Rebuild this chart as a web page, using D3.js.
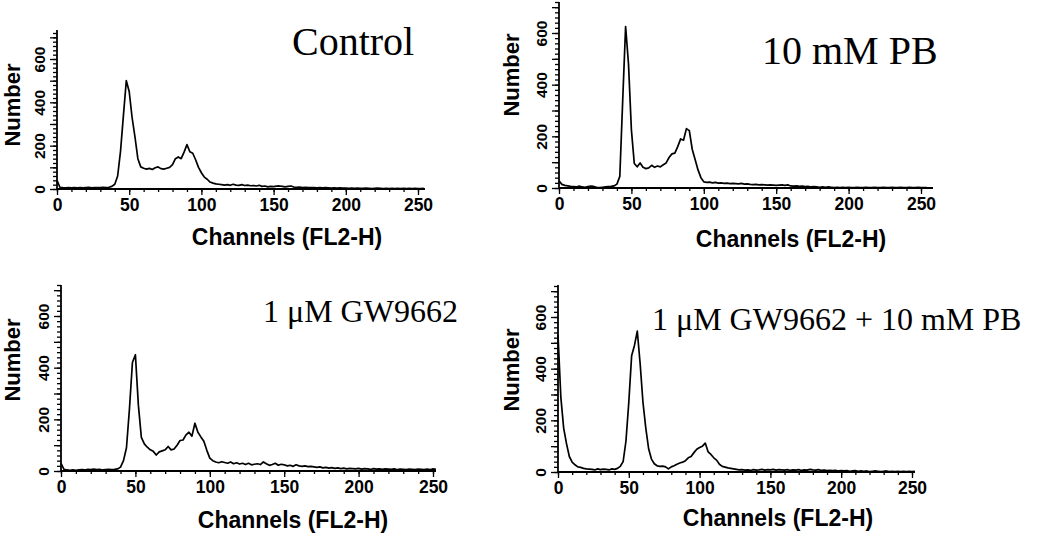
<!DOCTYPE html>
<html>
<head>
<meta charset="utf-8">
<script src="https://cdn.jsdelivr.net/npm/d3@7"></script>
<style>
  html, body { margin: 0; padding: 0; background: #fff; }
  svg { display: block; }
</style>
</head>
<body>
<svg id="chart" width="1050" height="537"></svg>
<script>
// ---------------- data ----------------
const channels = d3.range(0, 256, 2); // FL2-H channel of each count below

const panelTitles = ["Control", "10 mM PB", "1 \u03BCM GW9662", "1 \u03BCM GW9662 + 10 mM PB"];
const xAxisTitle = "Channels (FL2-H)";
const yAxisTitle = "Number";
const xTickLabels = [0, 50, 100, 150, 200, 250];
const yTickLabels = [0, 200, 400, 600];

const controlCounts = [
  40, 8, 6, 5, 6, 5, 6, 5, 6, 5, 7, 8, 5, 6, 7, 6,
  8, 7, 8, 12, 22, 60, 175, 340, 500, 450, 330, 240, 140, 102, 96, 92,
  95, 90, 98, 102, 94, 92, 96, 100, 112, 140, 148, 140, 170, 205, 172, 165,
  135, 100, 75, 55, 45, 32, 27, 24, 22, 20, 18, 20, 17, 22, 18, 17,
  20, 16, 18, 15, 16, 14, 17, 12, 14, 10, 12, 11, 13, 14, 12, 10,
  12, 14, 9, 8, 9, 7, 8, 6, 7, 6, 5, 6, 5, 6, 5, 4,
  5, 4, 5, 4, 4, 3, 4, 3, 4, 3, 3, 4, 3, 2, 3, 4,
  3, 2, 3, 2, 3, 2, 3, 2, 3, 2, 3, 2, 3, 2, 2, 3
];
const pbCounts = [
  28, 14, 10, 8, 6, 5, 4, 7, 4, 3, 5, 7, 6, 3, 2, 3,
  4, 5, 6, 8, 15, 45, 340, 625, 480, 225, 95, 82, 97, 80, 75, 78,
  88, 80, 85, 82, 90, 97, 118, 132, 135, 160, 190, 185, 230, 222, 150, 110,
  70, 40, 24, 22, 23, 20, 22, 19, 20, 18, 19, 17, 18, 17, 16, 18,
  15, 16, 14, 13, 14, 12, 13, 12, 11, 12, 11, 10, 11, 12, 10, 12,
  8, 7, 8, 6, 7, 5, 6, 4, 5, 4, 3, 4, 3, 4, 3, 2,
  3, 2, 3, 2, 3, 2, 2, 3, 2, 2, 3, 2, 2, 3, 2, 2,
  3, 2, 2, 3, 2, 2, 3, 2, 2, 3, 2, 2, 3, 2, 2, 2
];
const gwCounts = [
  30, 6, 4, 3, 4, 3, 4, 5, 4, 6, 5, 7, 5, 6, 4, 5,
  6, 5, 6, 8, 15, 40, 90, 240, 420, 450, 255, 130, 105, 92, 82, 76,
  62, 74, 78, 82, 95, 82, 85, 100, 118, 120, 140, 150, 135, 185, 150, 132,
  115, 80, 50, 40, 35, 32, 36, 33, 30, 35, 28, 32, 27, 30, 25, 30,
  24, 26, 28, 25, 35, 28, 22, 25, 30, 22, 26, 24, 20, 22, 18, 24,
  20, 18, 20, 17, 18, 16, 14, 16, 12, 14, 11, 13, 10, 12, 9, 11,
  8, 10, 9, 8, 10, 7, 9, 8, 6, 9, 7, 8, 6, 8, 7, 6,
  8, 5, 7, 6, 5, 7, 6, 5, 7, 6, 5, 7, 5, 8, 6, 5
];
const gwPbCounts = [
  530, 290, 170, 110, 60, 38, 28, 20, 18, 14, 12, 11, 10, 8, 12, 9,
  11, 10, 8, 12, 10, 14, 22, 40, 120, 270, 450, 490, 545, 420, 270, 170,
  90, 50, 32, 24, 22, 23, 20, 12, 20, 24, 30, 35, 38, 44, 55, 60,
  75, 88, 95, 100, 112, 78, 68, 55, 46, 30, 22, 19, 16, 14, 12, 10,
  8, 9, 7, 8, 6, 9, 7, 8, 10, 7, 9, 8, 10, 7, 9, 8,
  7, 9, 6, 8, 7, 9, 6, 8, 7, 10, 8, 7, 9, 6, 7, 5,
  6, 5, 6, 4, 5, 4, 5, 3, 4, 5, 3, 4, 3, 4, 2, 3,
  4, 3, 2, 3, 4, 2, 3, 2, 3, 2, 3, 2, 3, 2, 3, 2
];
const seriesList = [controlCounts, pbCounts, gwCounts, gwPbCounts];

// ---------------- layout (pixels) ----------------
const layout = [
  {x0: 57,  x250: 418, xEnd: 425, yBase: 189, y600: 59,  yTop: 30,  tx: 292, ty: 55,  ts: 40, xlx: 287, xly: 245, ylx: 20,  yly: 105},
  {x0: 559, x250: 921, xEnd: 933, yBase: 188, y600: 33,  yTop: 2,   tx: 762, ty: 64,  ts: 40, xlx: 791, xly: 247, ylx: 519, yly: 75},
  {x0: 61,  x250: 433, xEnd: 436, yBase: 471, y600: 316, yTop: 285, tx: 263, ty: 322, ts: 32, xlx: 293, xly: 528, ylx: 20,  yly: 360},
  {x0: 558, x250: 912, xEnd: 915, yBase: 472, y600: 317, yTop: 285, tx: 652, ty: 330, ts: 32, xlx: 778, xly: 526, ylx: 519, yly: 370}
];

const SANS = "'Liberation Sans', Arial, Helvetica, sans-serif";
const SERIF = "'Liberation Serif', 'Times New Roman', serif";

const svg = d3.select("#chart");

layout.forEach((L, i) => {
  const g = svg.append("g");
  const x = d3.scaleLinear().domain([0, 250]).range([L.x0, L.x250]);
  const y = d3.scaleLinear().domain([0, 600]).range([L.yBase, L.y600]);
  const yMaxTick = Math.floor(y.invert(L.yTop) / 20) * 20;

  // ----- x axis -----
  const xg = g.append("g").attr("transform", `translate(0,${L.yBase})`);
  xg.append("g")
    .call(d3.axisBottom(x).tickValues(d3.range(0, 251, 10)).tickSize(3).tickSizeOuter(0).tickFormat(""))
    .call(s => s.select(".domain").remove());
  xg.append("g")
    .call(d3.axisBottom(x).tickValues(xTickLabels).tickSize(6).tickSizeOuter(0).tickPadding(4))
    .call(s => s.select(".domain").remove())
    .call(s => s.selectAll("text")
      .attr("font-family", SANS).attr("font-weight", "bold").attr("font-size", 17.5).attr("fill", "#000"));
  xg.append("line").attr("x1", L.x0).attr("x2", L.xEnd).attr("y1", 0).attr("y2", 0)
    .attr("stroke", "#000").attr("stroke-width", 1.8);

  // ----- y axis -----
  const yg = g.append("g").attr("transform", `translate(${L.x0},0)`);
  yg.append("g")
    .call(d3.axisLeft(y).tickValues(d3.range(0, yMaxTick + 1, 20)).tickSize(4).tickSizeOuter(0).tickFormat(""))
    .call(s => s.select(".domain").remove());
  yg.append("g")
    .call(d3.axisLeft(y).tickValues(d3.range(0, yMaxTick + 1, 100)).tickSize(7).tickSizeOuter(0)
      .tickFormat(d => yTickLabels.includes(d) ? String(d) : ""))
    .call(s => s.select(".domain").remove())
    .call(s => s.selectAll("text")
      .attr("x", 0).attr("y", -12).attr("dy", 0)
      .attr("transform", "rotate(-90)")
      .attr("text-anchor", "middle")
      .attr("font-family", SANS).attr("font-weight", "bold").attr("font-size", 15.5).attr("fill", "#000"));
  yg.append("line").attr("x1", 0).attr("x2", 0).attr("y1", L.yBase).attr("y2", L.yTop)
    .attr("stroke", "#000").attr("stroke-width", 1.8);

  g.selectAll(".tick line").attr("stroke", "#000").attr("stroke-width", 1.3);

  // ----- histogram line -----
  const data = channels.map((c, k) => ({c, v: seriesList[i][k]})).filter(d => x(d.c) <= L.xEnd);
  g.append("path")
    .datum(data)
    .attr("fill", "none")
    .attr("stroke", "#000")
    .attr("stroke-width", 1.7)
    .attr("stroke-linejoin", "round")
    .attr("d", d3.line().x(d => x(d.c)).y(d => y(d.v)));

  // ----- texts -----
  g.append("text").text(panelTitles[i])
    .attr("x", L.tx).attr("y", L.ty)
    .attr("font-family", SERIF).attr("font-size", L.ts).attr("fill", "#000");
  g.append("text").text(xAxisTitle)
    .attr("x", L.xlx).attr("y", L.xly).attr("text-anchor", "middle")
    .attr("font-family", SANS).attr("font-weight", "bold").attr("font-size", 23).attr("fill", "#000");
  g.append("text").text(yAxisTitle)
    .attr("transform", `translate(${L.ylx},${L.yly}) rotate(-90)`)
    .attr("text-anchor", "middle")
    .attr("font-family", SANS).attr("font-weight", "bold").attr("font-size", 22).attr("fill", "#000");
});
</script>
</body>
</html>
